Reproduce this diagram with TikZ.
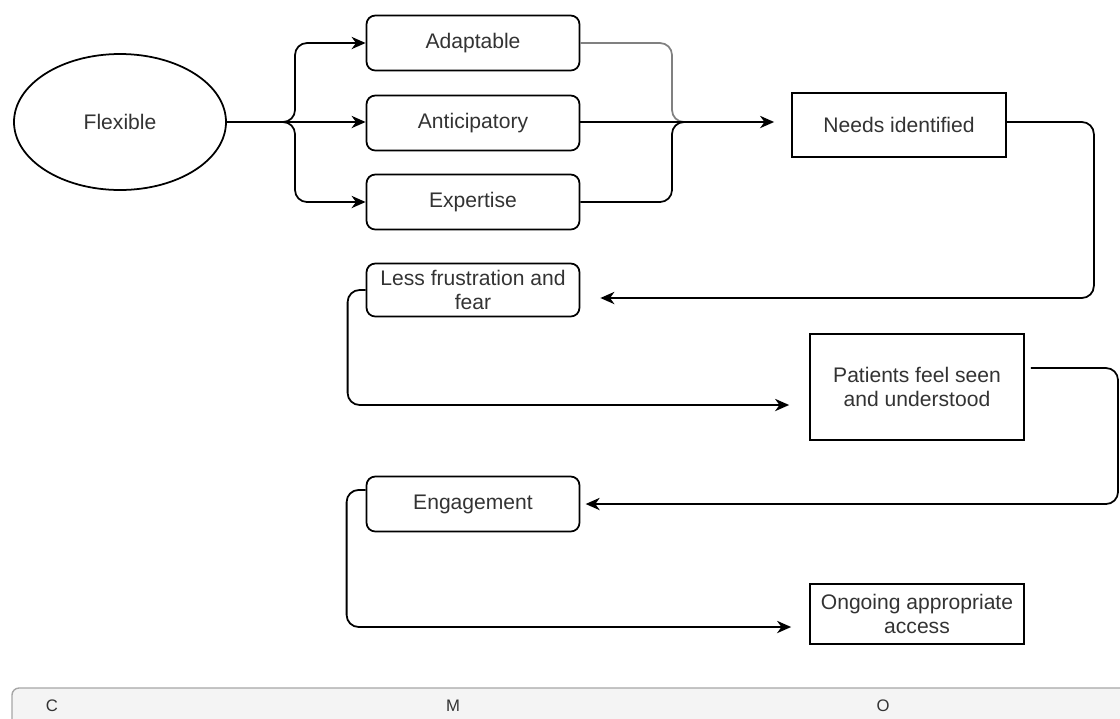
\documentclass[tikz,border=0pt]{standalone}
\usepackage{fontspec}
\setmainfont{Liberation Sans}
\usepackage{xcolor}
\usetikzlibrary{arrows.meta}
\usetikzlibrary{calc}
\usetikzlibrary{shapes.geometric}
\definecolor{txt}{HTML}{333333}
\definecolor{band}{HTML}{F4F4F4}

\begin{document}
\begin{tikzpicture}[x=0.02cm, y=-0.02cm]
  \def\u{0.02cm}
  \tikzset{
    every node/.style={font=\fontsize{12}{14}\selectfont, text=txt, align=center},
    roundbox/.style={draw, line width=1pt, rounded corners=5pt, minimum width=213*\u, minimum height=55*\u, inner sep=1pt},
    plainbox/.style={draw, line width=1pt, minimum width=214*\u, inner sep=1pt},
    conn/.style={line width=1pt, rounded corners=12*\u},
    arr/.style={conn, -{Stealth[length=8pt, width=7pt, inset=2.5pt]}},
    band letter/.style={font=\fontsize{9.5}{11}\selectfont, text=txt}
  }

  \useasboundingbox (0,0) rectangle (1120,718);

  \node[draw, ellipse, line width=1pt, minimum width=212*\u, minimum height=136*\u] (flex) at (120,122) {Flexible};

  \node[roundbox] (ada) at (473,43) {Adaptable};
  \node[roundbox] (ant) at (473,123) {Anticipatory};
  \node[roundbox] (exp) at (473,202) {Expertise};

  \node[plainbox, minimum height=64*\u] (needs) at (899,125) {Needs identified};
  \node[roundbox, minimum height=53*\u] (less) at (473,290) {Less frustration and\\fear};
  \node[plainbox, minimum height=106*\u] (pat) at (917,387) {Patients feel seen\\and understood};
  \node[roundbox] (eng) at (473,504) {Engagement};
  \node[plainbox, minimum height=60*\u] (ong) at (917,614) {Ongoing appropriate\\access};

  \coordinate (split) at (287,122);
  \coordinate (jx) at (672,122);
  \coordinate (join) at (680,122);

  \draw[arr] (flex.east) -- (ant.west |- flex.east);
  \draw[arr] (split) -- ++(8,0) |- (ada.west);
  \draw[arr] (split) -- ++(8,0) |- (exp.west);

  \draw[conn, gray] (ada.east) -| (jx) -- (join);
  \draw[conn] (exp.east) -| (jx) -- (join);
  \draw[arr, shorten >=17*\u] (ant.east |- flex.east) -- (needs.west |- flex.east);

  \draw[arr] (needs.east |- 0,122) -- ++(87,0) |- ([shift={(20,8)}]less.east);
  \draw[arr] (less.west) -- ++(-18,0) |- ([shift={(-20,18)}]pat.west);
  \draw[arr] ([shift={(6,-19)}]pat.east) -- (1118,368) |- ([xshift=3]eng.east);
  \draw[arr] ([yshift=8]eng.west) -- ++(-19,0) |- ([shift={(-18,13)}]ong.west);

  \draw[line width=0.8pt, draw=gray!70, fill=band, rounded corners=4pt] (12,730) -- (12,688) -- (1135,688) -- (1135,730);
  \node[band letter] (c) at (52,706) {C};
  \node[band letter] (m) at (453,706) {M};
  \node[band letter] (o) at (883,706) {O};
\end{tikzpicture}
\end{document}
